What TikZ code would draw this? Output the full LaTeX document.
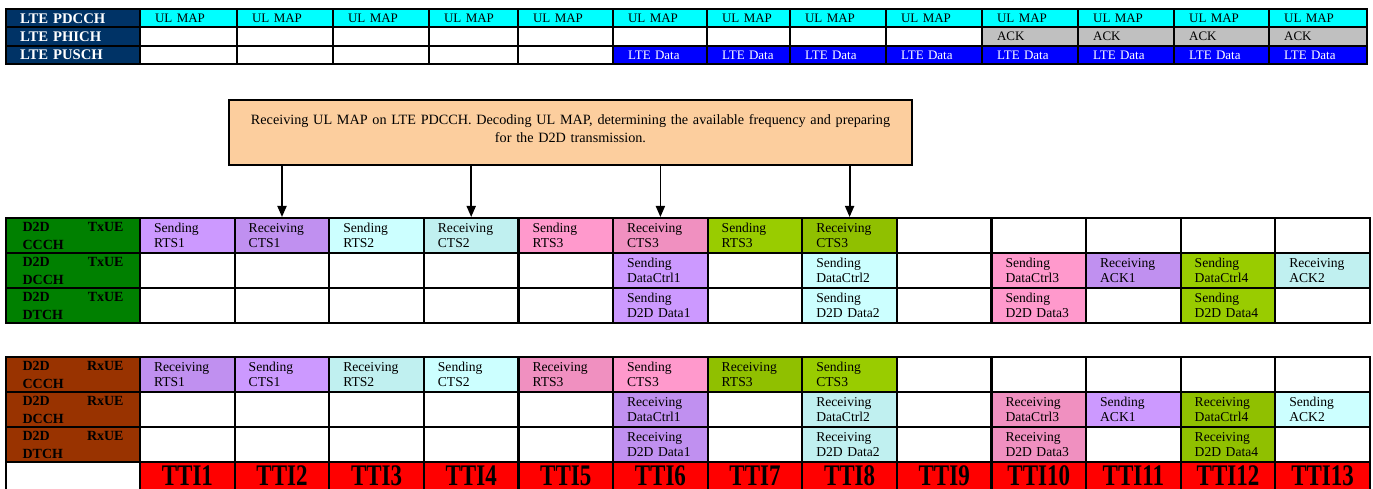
\documentclass[tikz,border=0pt]{standalone}
\usepackage{fontspec}
\setmainfont{Liberation Serif}
\usepackage{graphicx}
\usetikzlibrary{arrows.meta}

\definecolor{ltenavy}{RGB}{0,51,102}
\definecolor{ulmap}{RGB}{0,255,255}
\definecolor{ltedata}{RGB}{0,0,255}
\definecolor{ackgrey}{RGB}{192,192,192}
\definecolor{txgreen}{RGB}{0,128,0}
\definecolor{rxbrown}{RGB}{153,51,0}
\definecolor{ttired}{RGB}{255,0,0}
\definecolor{peach}{RGB}{252,206,158}
\definecolor{purpS}{RGB}{204,153,255}
\definecolor{purpR}{RGB}{192,144,240}
\definecolor{cyanS}{RGB}{204,255,255}
\definecolor{cyanR}{RGB}{192,240,240}
\definecolor{pinkS}{RGB}{255,153,204}
\definecolor{pinkR}{RGB}{240,144,192}
\definecolor{grnS}{RGB}{153,204,0}
\definecolor{grnR}{RGB}{144,192,0}

\begin{document}
\begin{tikzpicture}[x=1pt, y=-1pt,
    ltelbl/.style={draw, line width=2.2pt, anchor=north west, fill=ltenavy, text=white,
      inner xsep=14pt, inner ysep=0pt, text width=106pt, minimum height=18.3pt, align=left,
      font=\fontsize{14.7}{14.7}\selectfont\bfseries},
    ltecell/.style={draw, line width=2.2pt, anchor=north west, inner xsep=15pt, inner ysep=0pt,
      minimum height=18.3pt, align=left, font=\fontsize{13}{13}\selectfont},
    lblcell/.style={draw, line width=2.2pt, anchor=north west, inner xsep=16.5pt, inner ysep=0pt,
      text width=101pt, minimum height=35pt, align=left,
      font=\fontsize{14}{18}\selectfont\bfseries},
    cell/.style={draw, line width=2.2pt, anchor=north west, inner xsep=14pt, inner ysep=0pt,
      text width=66.6pt, minimum height=35pt, align=left, font=\fontsize{13.6}{15}\selectfont},
    ttic/.style={draw, line width=2.2pt, anchor=north west, fill=ttired, inner sep=0pt,
      minimum width=94.6pt, text height=23pt, text depth=12pt,
      font=\fontsize{23}{23}\selectfont\bfseries},
    note/.style={draw, line width=1.6pt, fill=peach, minimum width=683pt, minimum height=65pt,
      text width=670pt, text height=9.7pt, text depth=26pt, align=center,
      font=\fontsize{14.2}{18}\selectfont},
    arr/.style={-{Triangle[width=9pt,length=11pt]}, line width=1.8pt}]

  \useasboundingbox (0,0) rectangle (1373,489);

  % LTE channels
  \node[ltelbl] (pdcch) at (5,8) {LTE PDCCH};
  \node[ltelbl] (phich) at (5,26.3) {LTE PHICH};
  \node[ltelbl] (pusch) at (5,44.6) {LTE PUSCH};
  \foreach \xa/\xb [count=\i] in {139/236, 236/332, 332/428, 428/517, 517/612, 612/706, 706/789,
      789/885, 885/981, 981/1077, 1077/1173, 1173/1268, 1268/1366} {
    \pgfmathsetmacro{\tw}{\xb-\xa-30}
    \node[ltecell, fill=ulmap, text width=\tw pt] (pdcch\i) at (\xa,8) {UL MAP};
    \ifnum\i>9
      \node[ltecell, fill=ackgrey, text width=\tw pt] (phich\i) at (\xa,26.3) {ACK};
    \else
      \node[ltecell, text width=\tw pt] (phich\i) at (\xa,26.3) {};
    \fi
    \ifnum\i>5
      \node[ltecell, fill=ltedata, text=white, text width=\tw pt] (pusch\i) at (\xa,44.6) {LTE Data};
    \else
      \node[ltecell, text width=\tw pt] (pusch\i) at (\xa,44.6) {};
    \fi
  }

  % D2D transmitter
  \node[lblcell, fill=txgreen] (txlc) at (5,217) {D2D\hfill TxUE\\CCCH};
  \node[lblcell, fill=txgreen] (txld) at (5,252) {D2D\hfill TxUE\\DCCH};
  \node[lblcell, fill=txgreen] (txlt) at (5,287) {D2D\hfill TxUE\\DTCH};
  \foreach \f/\t [count=\i] in {purpS/{Sending\\RTS1}, purpR/{Receiving\\CTS1}, cyanS/{Sending\\RTS2},
      cyanR/{Receiving\\CTS2}, pinkS/{Sending\\RTS3}, pinkR/{Receiving\\CTS3}, grnS/{Sending\\RTS3},
      grnR/{Receiving\\CTS3}, white/{}, white/{}, white/{}, white/{}, white/{}}
    \node[cell, fill=\f] (txc\i) at ({139+(\i-1)*94.6},217) {\t};
  \foreach \f/\t [count=\i] in {white/{}, white/{}, white/{}, white/{}, white/{},
      purpS/{Sending\\DataCtrl1}, white/{}, cyanS/{Sending\\DataCtrl2}, white/{},
      pinkS/{Sending\\DataCtrl3}, purpR/{Receiving\\ACK1}, grnS/{Sending\\DataCtrl4},
      cyanR/{Receiving\\ACK2}}
    \node[cell, fill=\f] (txd\i) at ({139+(\i-1)*94.6},252) {\t};
  \foreach \f/\t [count=\i] in {white/{}, white/{}, white/{}, white/{}, white/{},
      purpS/{Sending\\D2D Data1}, white/{}, cyanS/{Sending\\D2D Data2}, white/{},
      pinkS/{Sending\\D2D Data3}, white/{}, grnS/{Sending\\D2D Data4}, white/{}}
    \node[cell, fill=\f] (txt\i) at ({139+(\i-1)*94.6},287) {\t};

  % D2D receiver
  \node[lblcell, fill=rxbrown] (rxlc) at (5,356) {D2D\hfill RxUE\\CCCH};
  \node[lblcell, fill=rxbrown] (rxld) at (5,391) {D2D\hfill RxUE\\DCCH};
  \node[lblcell, fill=rxbrown] (rxlt) at (5,426) {D2D\hfill RxUE\\DTCH};
  \foreach \f/\t [count=\i] in {purpR/{Receiving\\RTS1}, purpS/{Sending\\CTS1}, cyanR/{Receiving\\RTS2},
      cyanS/{Sending\\CTS2}, pinkR/{Receiving\\RTS3}, pinkS/{Sending\\CTS3}, grnR/{Receiving\\RTS3},
      grnS/{Sending\\CTS3}, white/{}, white/{}, white/{}, white/{}, white/{}}
    \node[cell, fill=\f] (rxc\i) at ({139+(\i-1)*94.6},356) {\t};
  \foreach \f/\t [count=\i] in {white/{}, white/{}, white/{}, white/{}, white/{},
      purpR/{Receiving\\DataCtrl1}, white/{}, cyanR/{Receiving\\DataCtrl2}, white/{},
      pinkR/{Receiving\\DataCtrl3}, purpS/{Sending\\ACK1}, grnR/{Receiving\\DataCtrl4},
      cyanS/{Sending\\ACK2}}
    \node[cell, fill=\f] (rxd\i) at ({139+(\i-1)*94.6},391) {\t};
  \foreach \f/\t [count=\i] in {white/{}, white/{}, white/{}, white/{}, white/{},
      purpR/{Receiving\\D2D Data1}, white/{}, cyanR/{Receiving\\D2D Data2}, white/{},
      pinkR/{Receiving\\D2D Data3}, white/{}, grnR/{Receiving\\D2D Data4}, white/{}}
    \node[cell, fill=\f] (rxt\i) at ({139+(\i-1)*94.6},426) {\t};

  % TTIs
  \node[lblcell, fill=white] (ttil) at (5,461) {};
  \foreach \i in {1,...,13}
    \node[ttic] (tti\i) at ({139+(\i-1)*94.6},461) {\scalebox{1}[1.3]{TTI\i}};

  % UL MAP note
  \node[note] (note) at (570.5,132.5) {Receiving UL MAP on LTE PDCCH. Decoding UL MAP, determining the available frequency and preparing\\for the D2D transmission.};
  \foreach \c in {2,4,6,8}
    \draw[arr] (note.south -| txc\c) -- (txc\c.north);
\end{tikzpicture}
\end{document}
